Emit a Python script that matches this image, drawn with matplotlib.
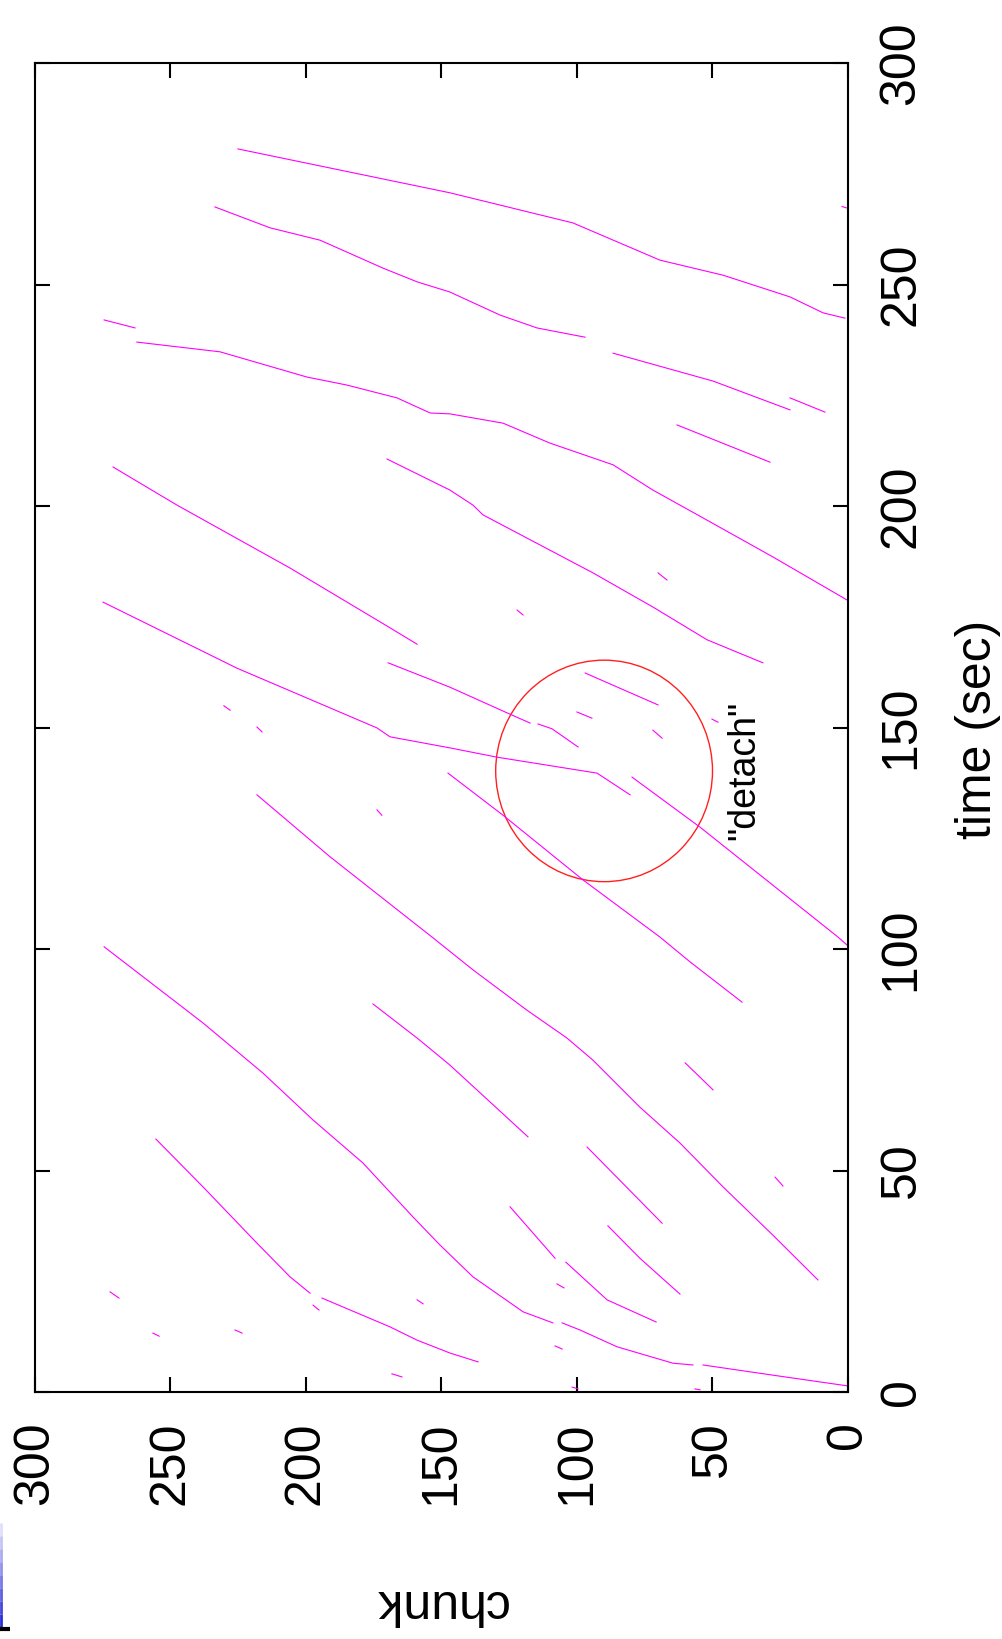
import matplotlib
matplotlib.use("Agg")
import matplotlib.pyplot as plt
from matplotlib.patches import Ellipse
from matplotlib.lines import Line2D

plt.rcParams['font.family'] = ['Liberation Sans', 'DejaVu Sans']

# each run: list of (time sec, chunk)
run_a = [(280.6, 225.1), (270.7, 146.9), (263.9, 101.5), (255.5, 69.4), (252.1, 46.1),
         (247.2, 21.4), (243.6, 9.2), (242.4, 1.1)]
run_b = [(267.5, 233.6), (262.8, 213.3), (260.0, 194.8), (253.7, 171.6), (250.6, 159.0),
         (248.3, 146.9), (243.1, 128.4), (240.2, 114.8), (238.1, 97.0)]
run_c = [(242.0, 274.5), (240.2, 263.1)]
run_d = [(237.0, 262.4), (234.8, 231.7), (229.1, 199.6), (227.3, 184.9), (224.4, 166.4),
         (221.0, 154.2), (220.8, 146.9), (218.7, 127.3), (214.2, 110.0), (209.3, 86.7),
         (203.6, 72.0), (196.8, 52.0), (188.5, 27.7), (178.8, 0.4)]
run_e = [(208.8, 271.2), (200.2, 247.6), (192.3, 224.4), (186.0, 205.9), (172.5, 169.0),
         (168.8, 159.0)]
run_f = [(210.6, 170.1), (203.6, 146.9), (200.2, 138.4), (198.0, 134.7), (184.9, 94.1),
         (177.2, 72.0), (169.8, 52.0), (164.6, 31.4)]
run_g = [(234.5, 86.7), (228.2, 49.8), (221.7, 21.4)]
run_h = [(224.4, 21.4), (221.2, 8.5)]
run_i = [(218.3, 63.1), (209.9, 28.8)]
run_j = [(267.6, 2.2), (267.3, 0.6)]
run_k = [(178.3, 274.9), (163.4, 225.5), (149.9, 173.8), (147.9, 169.0), (145.4, 146.9),
         (143.3, 129.5), (139.7, 92.6), (134.8, 80.4)]
run_l1 = [(164.6, 169.7), (159.1, 146.9), (153.3, 125.8), (151.0, 117.3)]
run_l2 = [(150.8, 114.4), (149.7, 109.2), (145.6, 99.6)]
run_p = [(134.8, 218.1), (120.8, 191.1), (102.5, 153.1), (95.3, 138.4), (86.2, 118.5),
         (79.9, 103.7), (74.9, 94.1), (64.3, 76.8), (56.2, 62.0), (46.3, 46.1),
         (35.4, 27.7), (25.3, 11.1)]
run_q = [(139.7, 147.6), (130.2, 127.3), (115.6, 97.8), (102.7, 69.4), (97.1, 58.3), (88.0, 39.1)]
run_r = [(138.8, 79.7), (127.5, 54.6), (102.7, 3.7), (100.7, 0.0)]
run_s = [(162.3, 97.0), (155.1, 70.1)]
run_x1 = [(100.5, 274.5), (83.3, 238.0), (72.0, 215.9), (61.4, 197.4), (51.7, 179.0),
          (39.5, 160.5), (33.2, 150.6), (26.0, 138.4), (18.1, 119.9), (15.6, 108.9)]
run_x2 = [(15.6, 105.5), (14.0, 98.9), (10.2, 85.2), (6.5, 64.6), (6.1, 57.2)]
run_x3 = [(6.1, 53.5), (3.8, 27.7), (1.4, 0.4)]
run_y1 = [(57.1, 255.4), (46.3, 238.0), (33.6, 218.1), (26.0, 205.9), (22.3, 198.5)]
run_y2 = [(21.2, 194.1), (14.7, 169.0), (11.7, 159.0), (8.8, 146.9), (6.8, 136.5)]
run_z = [(87.6, 175.3), (79.9, 159.0), (73.8, 146.9), (57.6, 118.1)]
run_aa = [(55.3, 96.3), (38.1, 68.6)]
run_ab = [(41.8, 124.7), (30.2, 108.1)]
run_ac = [(37.5, 88.6), (30.2, 76.8), (22.1, 62.0)]
run_ad = [(29.3, 104.1), (20.8, 88.9), (15.8, 70.8)]
run_ae = [(74.3, 60.1), (68.2, 49.8)]

# tiny fragments
bits = [
    [(154.9, 230.3), (153.9, 228.0)], [(150.1, 218.1), (149.0, 216.2)],
    [(131.4, 173.8), (130.2, 172.0)], [(153.5, 100.0), (152.1, 94.5)],
    [(149.4, 72.0), (147.6, 68.6)], [(151.9, 50.2), (151.2, 48.0)],
    [(184.9, 70.1), (183.3, 66.8)], [(176.5, 122.1), (175.4, 119.9)],
    [(48.5, 26.9), (46.5, 24.0)], [(24.4, 107.4), (23.5, 104.8)],
    [(10.4, 108.1), (9.7, 105.5)], [(1.1, 101.8), (0.7, 99.6)],
    [(0.7, 56.5), (0.5, 54.6)], [(22.6, 272.3), (21.2, 269.0)],
    [(13.3, 256.5), (12.6, 254.2)], [(14.0, 226.2), (13.3, 223.6)],
    [(19.6, 197.4), (18.5, 195.2)], [(20.8, 159.0), (19.9, 156.8)],
    [(4.1, 168.3), (3.4, 164.6)],
]

runs = [run_a, run_b, run_c, run_d, run_e, run_f, run_g, run_h, run_i, run_j, run_k,
        run_l1, run_l2, run_p, run_q, run_r, run_s, run_x1, run_x2, run_x3, run_y1,
        run_y2, run_z, run_aa, run_ab, run_ac, run_ad, run_ae] + bits

ticks = [0, 50, 100, 150, 200, 250, 300]

fig = plt.figure(figsize=(10.03, 16.39), dpi=100)
ax = fig.add_axes([35 / 1003, 1 - 1392 / 1639, 813 / 1003, 1329 / 1639])

# plot is rotated: chunk runs right->left along bottom, time runs up the right side
for r in runs:
    t = [p[0] for p in r]
    c = [p[1] for p in r]
    ax.plot(c, t, color='#ff00ff', lw=0.8)

ax.add_patch(Ellipse((90.0, 140.2), 80.0, 50.0, fill=False, ec='#ff2020', lw=1.0))
ax.text(38.4, 140.4, '"detach"', rotation=90, ha='center', va='center', fontsize=27)

ax.set_xlim(300, 0)
ax.set_ylim(0, 300)
ax.set_xticks(ticks)
ax.set_yticks(ticks)
for s in ax.spines.values():
    s.set_linewidth(1.5)
ax.tick_params(direction='in', length=11, width=1.5, top=True, bottom=True,
               left=True, right=True, labelsize=36)
ax.tick_params(axis='x', labelrotation=90, pad=21)
ax.tick_params(axis='y', labelleft=False, labelright=True, labelrotation=90, pad=22)
for lab in ax.get_yticklabels():
    lab.set_va('center')

fig.text(955 / 1003, 1 - 729 / 1639, 'time (sec)', rotation=90, ha='left', va='center', fontsize=36)
fig.text(440 / 1003, 1 - 1603 / 1639, 'chunk', rotation=180, ha='center', va='center', fontsize=36)

# scan edge artefact at lower left (fades in towards the bottom)
y0, y1 = 1 - 1627 / 1639, 1 - 1523 / 1639
n = 8
for i in range(n):
    ya = y1 + (y0 - y1) * i / n
    yb = y1 + (y0 - y1) * (i + 1) / n
    fig.add_artist(Line2D([0.001, 0.001], [ya, yb], color='#2b2bd8', lw=2,
                          solid_capstyle='butt', alpha=0.15 + 0.85 * i / (n - 1)))
fig.add_artist(Line2D([0.0, 0.01], [1 - 1629 / 1639, 1 - 1629 / 1639], color='black', lw=3,
                      solid_capstyle='butt'))

fig.savefig('out.png', dpi=100, facecolor='white')
